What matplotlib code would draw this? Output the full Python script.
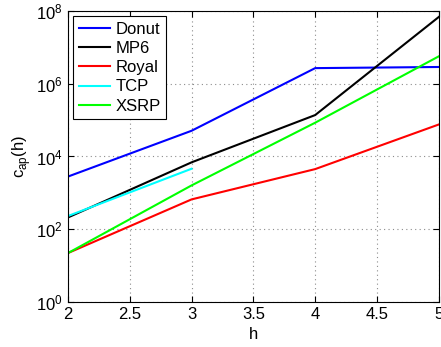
import matplotlib
matplotlib.use("Agg")
import matplotlib.pyplot as plt
from matplotlib.ticker import FixedLocator, NullLocator

plt.rcParams['font.family'] = ['Liberation Sans', 'DejaVu Sans']
plt.rcParams['mathtext.fontset'] = 'custom'
plt.rcParams['mathtext.rm'] = 'Liberation Sans'

h = [2, 3, 4, 5]
h_tcp = [2, 3]
donut = [2.8e3, 5.1e4, 2.7e6, 2.9e6]
mp6 = [2.1e2, 6.9e3, 1.38e5, 6.9e7]
royal = [22, 6.6e2, 4.5e3, 7.6e4]
tcp = [2.3e2, 4.6e3]
xsrp = [22, 1.6e3, 8.5e4, 5.7e6]

fig = plt.figure(figsize=(4.41, 3.47), dpi=100)
ax = fig.add_axes([0.154, 0.130, 0.841, 0.838])

lw = 1.5
ax.plot(h, donut, color=(0, 0, 1), lw=lw, label='Donut')
ax.plot(h, mp6, color='k', lw=lw, label='MP6')
ax.plot(h, royal, color=(1, 0, 0), lw=lw, label='Royal')
ax.plot(h_tcp, tcp, color=(0, 1, 1), lw=lw, label='TCP')
ax.plot(h, xsrp, color=(0, 1, 0), lw=lw, label='XSRP')

ax.set_yscale('log')
ax.set_xlim(2, 5)
ax.set_ylim(1, 1e8)
ax.yaxis.set_major_locator(FixedLocator([1, 1e2, 1e4, 1e6, 1e8]))
ax.yaxis.set_minor_locator(NullLocator())
ax.set_xticks([2, 2.5, 3, 3.5, 4, 4.5, 5])
ax.set_xticklabels(['2', '2.5', '3', '3.5', '4', '4.5', '5'])

fs = 12
ax.grid(True, which='major', linestyle=(0, (1, 3)), color='0.55', lw=0.8)
ax.tick_params(direction='in', top=True, right=True, labelsize=fs, length=4, width=0.8, pad=4)
for s in ax.spines.values():
    s.set_linewidth(0.8)

ax.set_xlabel('h', fontsize=fs, labelpad=3)
ax.set_ylabel(r'c$_{\mathrm{ap}}$(h)', fontsize=fs, labelpad=2)

leg = ax.legend(loc='upper left', fontsize=fs, frameon=True, fancybox=False,
                edgecolor='k', framealpha=1, borderaxespad=0.3, handlelength=1.9,
                labelspacing=0.25, borderpad=0.35, handletextpad=0.3)
leg.get_frame().set_linewidth(0.8)

fig.savefig('out.png', dpi=100)
